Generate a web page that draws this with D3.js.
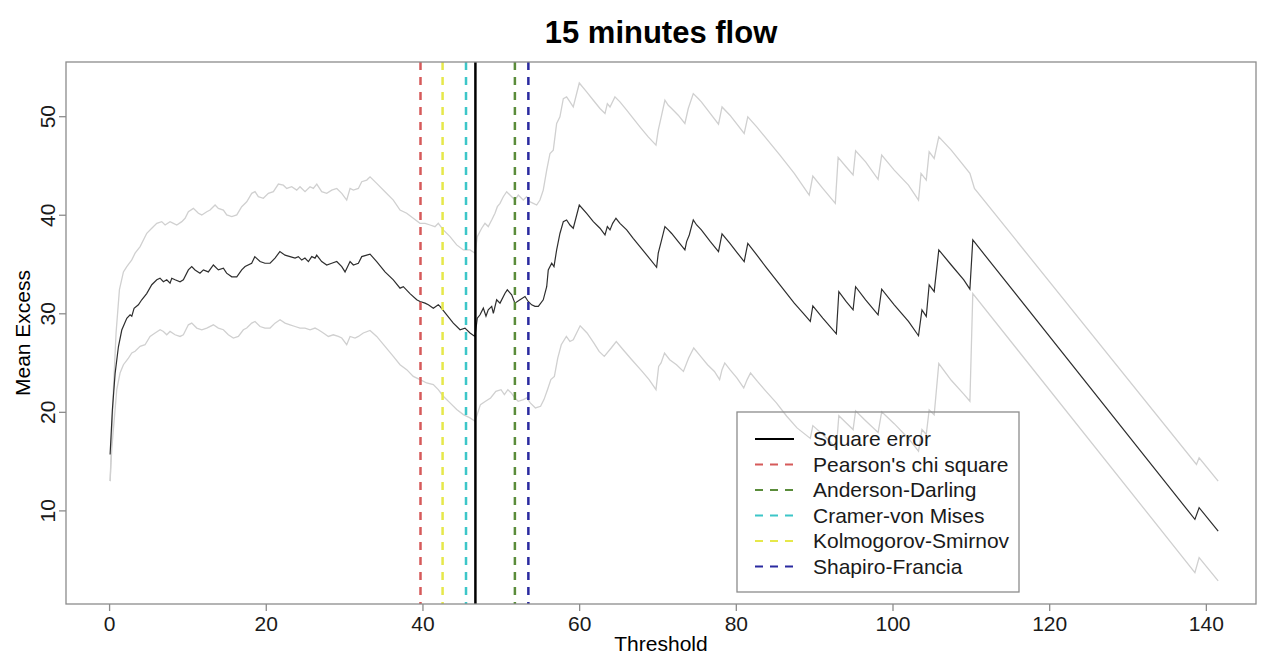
<!DOCTYPE html>
<html>
<head>
<meta charset="utf-8">
<script src="https://cdn.jsdelivr.net/npm/d3@7"></script>
<style>
  body { margin: 0; background: #fff; }
  text { font-family: "Liberation Sans", Arial, sans-serif; }
</style>
</head>
<body>
<svg id="chart"></svg>
<script>
// mean excess (threshold, value)
const meanExcess = [
  [0.13,15.67],[0.42,20.2],[0.77,23.9],[1.19,26.6],[1.62,28.3],[2.26,29.5],[2.68,29.85],[2.9,29.7],
  [3.19,30.5],[3.74,30.86],[4.17,31.37],[4.8,32.0],[5.45,32.9],[6.09,33.4],[6.5,33.56],[6.93,33.2],
  [7.36,33.4],[7.78,33.06],[8.0,33.56],[8.42,33.4],[9.06,33.2],[9.48,33.4],[10.12,34.4],[10.55,34.74],
  [10.97,34.4],[11.6,34.07],[12.04,34.4],[12.67,34.2],[13.31,34.9],[13.95,34.4],[14.59,34.57],[15.0,34.07],
  [15.66,33.7],[16.3,33.7],[16.93,34.4],[17.36,34.74],[18.2,35.08],[18.6,35.75],[19.27,35.25],[19.9,35.08],
  [20.55,35.08],[21.18,35.6],[21.8,36.26],[22.46,35.9],[23.1,35.75],[23.74,35.6],[24.16,35.75],[24.59,35.4],
  [25.0,35.6],[25.44,35.25],[25.87,35.75],[26.29,35.6],[26.5,35.9],[27.14,35.25],[27.78,34.9],[28.42,35.08],
  [29.06,35.25],[29.7,34.74],[30.12,34.2],[30.76,35.25],[31.18,34.9],[31.82,35.08],[32.25,35.75],[32.89,35.9],
  [33.31,36.0],[34.16,35.25],[35.22,34.2],[36.28,33.4],[37.14,32.55],[37.56,32.7],[38.41,32.0],[39.27,31.37],
  [39.69,31.2],[40.33,31.03],[40.75,30.86],[41.39,30.52],[42.02,30.86],[42.24,30.7],[43.1,29.85],[43.94,29.0],
  [44.8,28.33],[45.43,28.5],[46.07,28.0],[46.7,27.65],[47.0,29.5],[47.35,29.85],[47.77,30.52],[48.11,29.7],
  [48.4,30.35],[48.84,30.7],[49.05,30.0],[49.47,31.37],[49.9,31.03],[50.54,32.04],[50.83,32.38],[51.39,31.87],
  [51.8,31.03],[52.45,31.37],[53.09,31.7],[53.5,31.2],[53.94,30.86],[54.37,30.7],[54.79,30.7],[55.42,31.37],
  [55.86,32.7],[56.06,34.4],[56.5,35.08],[56.79,34.74],[57.13,36.43],[57.55,38.1],[57.98,39.3],[58.4,39.47],
  [58.83,38.96],[59.25,38.63],[60.02,40.99],[60.96,40.15],[61.81,39.3],[62.66,38.63],[63.3,37.95],[63.6,38.8],
  [63.94,38.46],[64.28,39.13],[64.7,39.64],[65.21,39.13],[66.07,38.46],[66.9,37.61],[67.76,36.77],[68.62,35.92],
  [69.89,34.67],[70.1,36.1],[70.53,37.44],[70.95,38.8],[71.38,38.46],[71.81,38.1],[72.65,37.27],[73.5,36.43],
  [73.72,37.27],[74.06,37.95],[74.57,39.47],[75.0,38.96],[75.6,38.46],[76.75,37.27],[77.79,36.26],[78.24,38.05],
  [79.25,37.1],[80.16,36.16],[81.07,35.25],[81.53,37.1],[82.67,35.92],[83.8,34.74],[85.63,32.89],[87.46,31.03],
  [88.59,30.02],[89.51,29.17],[89.83,30.76],[91.1,29.51],[92.83,27.92],[93.15,32.2],[94.07,31.2],[94.97,30.35],
  [95.29,32.7],[96.57,31.37],[98.16,29.85],[98.62,32.45],[100.22,30.86],[102.04,29.17],[103.32,27.72],[103.76,30.35],
  [104.31,29.68],[104.68,32.89],[105.32,32.2],[105.91,36.43],[107.5,34.9],[109.1,33.39],[109.88,32.45],[110.25,37.44],
  [138.6,9.09],[139.14,10.27],[141.57,7.9]
];

// upper confidence band
const upperBand = [
  [0.13,12.97],[0.34,17.5],[0.55,22.25],[0.89,28.0],[1.32,32.4],[1.83,34.2],[2.26,34.74],[2.9,35.42],
  [3.32,36.1],[3.96,36.77],[4.81,38.12],[5.45,38.63],[6.09,39.13],[6.72,39.3],[7.15,38.96],[7.78,39.3],
  [8.21,39.13],[8.64,38.96],[9.28,39.3],[9.7,39.64],[10.12,40.31],[10.76,40.65],[11.4,40.15],[11.83,39.98],
  [12.47,40.31],[12.89,40.48],[13.53,40.99],[13.95,40.65],[14.59,40.48],[15.02,39.98],[15.66,39.81],[16.3,39.98],
  [16.93,40.82],[17.57,41.32],[18.21,42.17],[18.63,42.34],[19.05,41.83],[19.69,41.67],[20.33,42.17],[20.97,42.34],
  [21.61,43.11],[22.24,43.0],[22.68,42.67],[23.31,42.84],[23.95,42.5],[24.37,42.84],[25.01,42.34],[25.65,42.84],
  [26.07,42.67],[26.51,43.11],[27.14,42.34],[27.78,42.17],[28.42,42.5],[29.06,42.67],[29.7,42.17],[30.33,41.49],
  [30.76,42.67],[31.18,42.5],[31.82,42.67],[32.25,43.35],[32.89,43.52],[33.31,43.85],[34.16,43.18],[35.22,42.34],
  [36.28,41.49],[37.14,40.48],[37.99,40.15],[38.83,39.64],[39.69,39.13],[40.33,39.13],[40.97,38.96],[41.6,38.79],
  [42.02,39.13],[42.66,38.46],[43.52,37.78],[44.37,36.94],[45.22,36.43],[46.07,36.43],[46.71,36.1],[47.0,37.78],
  [47.56,38.63],[47.98,39.13],[48.4,38.8],[48.84,39.47],[49.26,40.15],[49.56,40.82],[49.9,41.16],[50.32,41.83],
  [50.75,42.34],[51.17,42.0],[51.81,41.49],[52.23,42.0],[52.87,41.49],[53.3,41.83],[53.73,41.32],[54.15,41.16],
  [54.58,40.99],[55.0,41.49],[55.42,42.5],[55.86,44.53],[56.28,46.22],[56.7,46.56],[57.13,49.26],[57.55,49.93],
  [57.98,51.79],[58.4,51.96],[58.83,51.45],[59.25,50.94],[60.02,53.37],[60.96,52.46],[61.81,51.62],[62.66,50.78],
  [63.3,50.27],[63.6,51.28],[63.94,50.94],[64.57,51.96],[65.21,51.45],[66.07,50.61],[66.9,49.77],[67.76,48.92],
  [68.82,47.9],[69.81,47.06],[70.1,48.58],[70.53,50.1],[70.95,51.62],[71.38,51.11],[71.81,50.78],[72.65,50.1],
  [73.5,49.26],[73.93,50.78],[74.57,52.29],[75.2,51.79],[75.6,51.45],[77.79,49.19],[78.24,50.94],[79.25,50.1],
  [81.07,48.25],[81.53,49.93],[82.67,48.92],[85.63,46.05],[87.46,44.2],[89.37,42.0],[89.83,43.92],[91.1,42.67],
  [92.7,41.16],[93.06,45.82],[94.07,44.87],[94.97,44.03],[95.29,46.49],[96.57,45.37],[98.16,43.59],[98.62,46.05],
  [100.22,44.53],[102.04,43.01],[103.32,41.49],[103.64,44.2],[104.31,43.52],[104.68,46.39],[105.32,45.72],[105.91,47.9],
  [107.5,46.56],[109.88,44.2],[110.46,42.67],[138.8,14.66],[139.14,15.34],[141.57,12.97]
];

// lower confidence band
const lowerBand = [
  [0.13,12.97],[0.34,16.18],[0.55,18.2],[0.98,22.25],[1.4,23.94],[1.83,24.78],[2.47,25.46],[2.9,25.97],
  [3.32,26.14],[3.96,26.64],[4.59,26.81],[5.23,27.65],[5.87,28.0],[6.51,28.33],[6.93,28.16],[7.36,27.82],
  [7.78,28.16],[8.42,27.82],[9.06,27.65],[9.48,27.82],[10.12,28.83],[10.55,29.0],[11.19,28.5],[11.83,28.33],
  [12.47,28.5],[13.31,28.83],[13.95,28.5],[14.59,28.33],[15.22,27.82],[15.86,27.49],[16.5,27.65],[17.14,28.33],
  [17.57,28.5],[18.21,29.0],[18.63,29.17],[19.27,28.66],[19.9,28.5],[20.55,28.5],[21.18,29.0],[21.82,29.34],
  [22.46,29.0],[23.1,28.83],[23.74,28.66],[24.37,28.5],[25.01,28.5],[25.65,28.33],[26.29,28.5],[26.71,28.33],
  [27.35,28.0],[27.99,27.65],[28.62,27.82],[29.26,27.65],[29.7,27.49],[30.33,26.81],[30.76,27.65],[31.39,27.49],
  [31.82,27.65],[32.45,28.0],[33.31,28.26],[34.16,27.65],[35.22,26.64],[36.28,25.63],[37.14,24.78],[37.99,24.28],
  [38.83,23.6],[39.69,23.27],[40.54,22.93],[41.39,22.76],[42.02,22.25],[42.66,21.58],[43.52,20.91],[44.37,20.23],
  [45.22,19.72],[46.07,19.39],[46.71,19.04],[47.4,20.73],[48.05,21.07],[48.7,21.41],[49.37,22.08],[50.03,22.25],
  [50.46,21.75],[50.9,22.25],[51.34,21.92],[51.78,21.41],[52.22,21.07],[52.88,21.24],[53.32,21.41],[53.76,20.91],
  [54.42,20.4],[55.08,20.56],[55.51,21.24],[55.96,22.25],[56.39,23.27],[56.84,23.6],[57.27,25.46],[57.72,26.81],
  [58.37,27.65],[58.82,27.14],[59.25,27.32],[60.13,28.73],[61.01,28.0],[61.89,26.98],[62.55,26.13],[63.21,25.63],
  [64.09,26.48],[64.74,27.14],[65.62,26.3],[66.72,25.29],[68.04,24.1],[68.93,23.27],[69.81,22.25],[70.15,24.61],
  [70.46,24.96],[70.9,25.97],[71.56,25.29],[72.43,24.78],[73.31,24.1],[73.98,25.46],[74.63,26.48],[75.51,25.63],
  [76.39,24.78],[77.27,24.1],[77.93,23.27],[78.24,24.28],[78.59,24.96],[79.25,24.28],[80.13,23.44],[81.01,22.43],
  [81.45,23.27],[81.88,23.94],[82.76,23.09],[83.86,22.08],[85.18,20.91],[86.5,19.55],[87.81,18.37],[89.51,17.3],
  [89.83,18.6],[91.1,17.7],[92.83,16.3],[93.15,19.6],[94.07,18.9],[94.97,18.2],[95.29,20.1],[96.57,19.1],
  [98.16,17.9],[98.62,20.0],[100.22,18.8],[102.04,17.3],[103.32,16.0],[103.76,18.2],[104.31,17.7],[104.68,20.2],
  [105.32,19.7],[105.91,24.9],[107.5,23.2],[109.1,21.8],[109.88,21.07],[110.25,32.0],[138.6,3.69],[139.14,5.21],
  [141.57,2.84]
];

const methods = ["Square error", "Pearson's chi square", "Anderson-Darling", "Cramer-von Mises", "Kolmogorov-Smirnov", "Shapiro-Francia"];
const methodThreshold = [46.76, 39.75, 51.8, 45.56, 42.57, 53.52];
const methodColor = ["#000000", "#d65a5a", "#5a8c3a", "#3cc6c8", "#e6e84a", "#2a2aa0"];

const xTicks = [0, 20, 40, 60, 80, 100, 120, 140];
const yTicks = [10, 20, 30, 40, 50];

const width = 1265, height = 655;
const marginLeft = 66, plotRight = 1256, plotTop = 62, plotBottom = 604;

const svg = d3.select('#chart')
  .attr('width', width)
  .attr('height', height);

svg.append('rect').attr('width', width).attr('height', height).attr('fill', '#fff');

const x = d3.scaleLinear().domain([-5.5, 146.4]).range([marginLeft, plotRight]);
const y = d3.scaleLinear().domain([0.5, 55.5]).range([plotBottom, plotTop]);

svg.append('defs').append('clipPath').attr('id', 'plotclip')
  .append('rect').attr('x', marginLeft).attr('y', plotTop)
  .attr('width', plotRight - marginLeft).attr('height', plotBottom - plotTop);

const plot = svg.append('g').attr('clip-path', 'url(#plotclip)');

const line = d3.line().x(d => x(d[0])).y(d => y(d[1]));

// bands first, grey
[upperBand, lowerBand].forEach(band => {
  plot.append('path')
    .datum(band)
    .attr('d', line)
    .attr('fill', 'none')
    .attr('stroke', '#d0d0d0')
    .attr('stroke-width', 1.3);
});

plot.append('path')
  .datum(meanExcess)
  .attr('d', line)
  .attr('fill', 'none')
  .attr('stroke', '#2e2e2e')
  .attr('stroke-width', 1.2);

// threshold chosen by each method
methods.forEach((m, i) => {
  plot.append('line')
    .attr('x1', x(methodThreshold[i])).attr('x2', x(methodThreshold[i]))
    .attr('y1', plotTop).attr('y2', plotBottom)
    .attr('stroke', methodColor[i])
    .attr('stroke-width', 2.5)
    .attr('stroke-dasharray', i == 0 ? null : '8,7');
});

// frame
svg.append('rect')
  .attr('x', marginLeft).attr('y', plotTop)
  .attr('width', plotRight - marginLeft).attr('height', plotBottom - plotTop)
  .attr('fill', 'none')
  .attr('stroke', '#8c8c8c')
  .attr('stroke-width', 1.3);

/* axes */
const xAxis = svg.append('g')
  .attr('transform', `translate(0,${plotBottom})`)
  .call(d3.axisBottom(x).tickValues(xTicks).tickSize(7).tickPadding(5).tickFormat(d3.format('d')));
xAxis.select('.domain').remove();
xAxis.selectAll('.tick line').attr('stroke', '#8c8c8c').attr('stroke-width', 1.3);
xAxis.selectAll('.tick text')
  .attr('fill', '#1a1a1a')
  .style('font-size', '21px')
  .style('font-family', '"Liberation Sans", Arial, sans-serif');

const yAxis = svg.append('g')
  .attr('transform', `translate(${marginLeft},0)`)
  .call(d3.axisLeft(y).tickValues(yTicks).tickSize(7).tickFormat(d3.format('d')));
yAxis.select('.domain').remove();
yAxis.selectAll('.tick line').attr('stroke', '#8c8c8c').attr('stroke-width', 1.3);
yAxis.selectAll('.tick text').remove();
yAxis.selectAll('.tick').append('text')
  .attr('transform', 'translate(-11,0) rotate(-90)')
  .attr('text-anchor', 'middle')
  .attr('fill', '#1a1a1a')
  .style('font-size', '21px')
  .text(d => d);

svg.append('text')
  .attr('x', (marginLeft + plotRight) / 2).attr('y', 43)
  .attr('text-anchor', 'middle')
  .style('font-size', '31px').style('font-weight', 'bold')
  .text('15 minutes flow');

svg.append('text')
  .attr('x', (marginLeft + plotRight) / 2).attr('y', 651)
  .attr('text-anchor', 'middle')
  .style('font-size', '21px')
  .text('Threshold');

svg.append('text')
  .attr('transform', `translate(30,${(plotTop + plotBottom) / 2}) rotate(-90)`)
  .attr('text-anchor', 'middle')
  .style('font-size', '21px')
  .text('Mean Excess');

// legend (no fill, lines show through)
const lg = svg.append('g');
lg.append('rect')
  .attr('x', 737).attr('y', 412).attr('width', 282).attr('height', 180)
  .attr('fill', 'none').attr('stroke', '#8c8c8c').attr('stroke-width', 1.3);
methods.forEach((m, i) => {
  const ly = 439 + i * 25.5;
  lg.append('line')
    .attr('x1', 755).attr('x2', 794).attr('y1', ly).attr('y2', ly)
    .attr('stroke', methodColor[i]).attr('stroke-width', 2.2)
    .attr('stroke-dasharray', i == 0 ? null : '8,7');
  lg.append('text')
    .attr('x', 813).attr('y', ly).attr('dy', '0.35em')
    .style('font-size', '21px')
    .attr('fill', '#1a1a1a')
    .text(m);
});
</script>
</body>
</html>
